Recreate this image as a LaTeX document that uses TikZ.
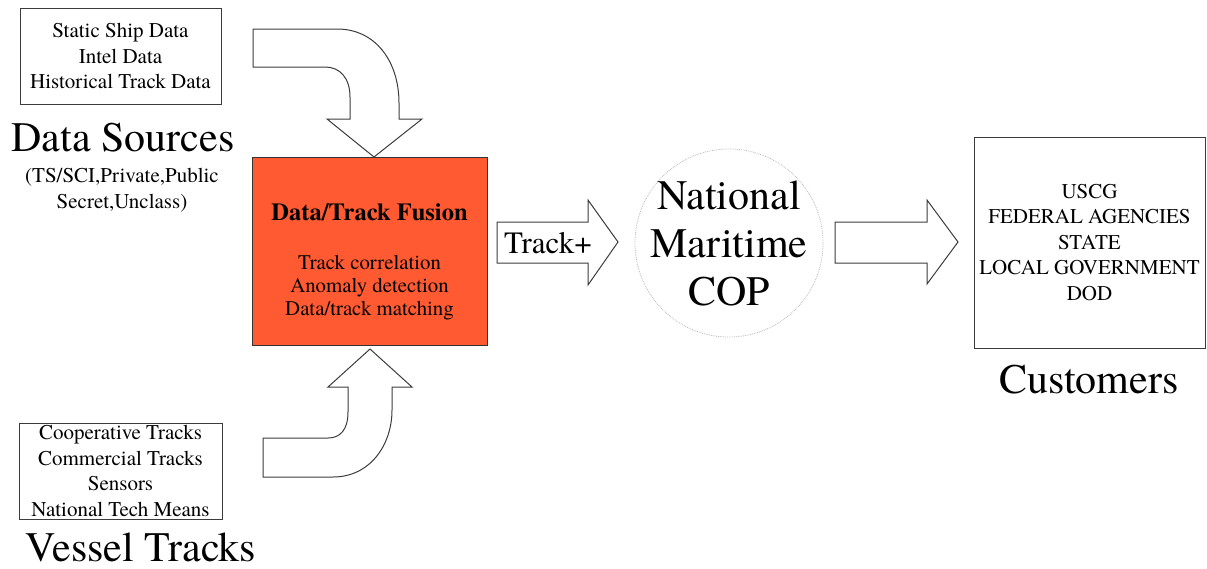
\documentclass[tikz,border=0pt]{standalone}
\usepackage{fontspec}
\setmainfont{texgyretermes}[Extension=.otf,UprightFont=*-regular,
  BoldFont=*-bold,ItalicFont=*-italic,BoldItalicFont=*-bolditalic]
\definecolor{fusionred}{RGB}{255,90,50}
\definecolor{edgegray}{RGB}{60,60,60}
\begin{document}
\begin{tikzpicture}[x=1pt,y=-1pt,
    listbox/.style={draw=edgegray,line width=0.9pt,align=center,
      font=\fontsize{21}{25.5}\selectfont,inner sep=0pt},
    biglabel/.style={font=\fontsize{42}{48}\selectfont,align=center},
    smalltext/.style={font=\fontsize{21}{26}\selectfont,align=center},
    blockarrow/.style={draw=edgegray,line width=1pt,fill=white,line join=miter}]
  \useasboundingbox (0,0) rectangle (1207,568);
  % sources on the left
  \node[listbox,minimum width=201,minimum height=96] (static) at (120.5,56)
    {Static Ship Data\\Intel Data\\Historical Track Data};
  \node[biglabel] (sources) at (123,138) {Data Sources};
  \node[smalltext] (classes) at (122,190) {(TS/SCI,Private,Public\\Secret,Unclass)};
  \node[listbox,minimum width=203,minimum height=96] (tracks) at (120.5,471)
    {Cooperative Tracks\\Commercial Tracks\\Sensors\\National Tech Means};
  \node[biglabel] (vessel) at (141,547) {Vessel Tracks};
  % fusion box
  \node[draw=black!80,line width=0.9pt,fill=fusionred,minimum width=235,
    minimum height=188] (fusion) at (369.5,251) {};
  \node[font=\fontsize{24.5}{27}\selectfont\bfseries] (fustitle) at (369.5,212)
    {Data/Track Fusion};
  \node[font=\fontsize{20.8}{22.7}\selectfont,align=center] (fusbody) at (369.5,287.5)
    {Track correlation\\Anomaly detection\\Data/track matching};
  % bent arrows into the fusion box
  \draw[blockarrow] (253,29) -- (337,29) .. controls (376,29) and (399,62) .. (399,103)
    -- (399,119) -- (422,119) -- (374,157) -- (327,119) -- (350,119) -- (350,97)
    .. controls (350,78) and (340,67) .. (325,67) -- (253,67) -- cycle;
  \draw[blockarrow] (263,477) -- (333,477) .. controls (370,477) and (392,445) .. (392,410)
    -- (392,387) -- (412,387) -- (370,349) -- (328,387) -- (348,387) -- (348,412)
    .. controls (348,430) and (340,438) .. (328,438) -- (263,438) -- cycle;
  % Track+ arrow
  \draw[blockarrow] (497,222) -- (588,222) -- (588,200) -- (618,242) -- (588,285)
    -- (588,263) -- (497,263) -- cycle;
  \node[font=\fontsize{31}{34}\selectfont] (trackplus) at (548,243) {Track+};
  % common operating picture
  \node[circle,draw=gray!55,densely dotted,line width=0.8pt,minimum size=188,
    inner sep=0pt] (cop) at (729,243) {};
  \node[biglabel] (coptext) at (cop.center) {National\\Maritime\\COP};
  \draw[blockarrow] (835,222) -- (927,222) -- (927,200) -- (958,242) -- (927,284)
    -- (927,263) -- (835,263) -- cycle;
  % customers
  \node[listbox,minimum width=231,minimum height=211] (custbox) at (1089.5,242.5)
    {USCG\\FEDERAL AGENCIES\\STATE\\LOCAL GOVERNMENT\\DOD};
  \node[biglabel] (customers) at (1089,380) {Customers};
\end{tikzpicture}
\end{document}
